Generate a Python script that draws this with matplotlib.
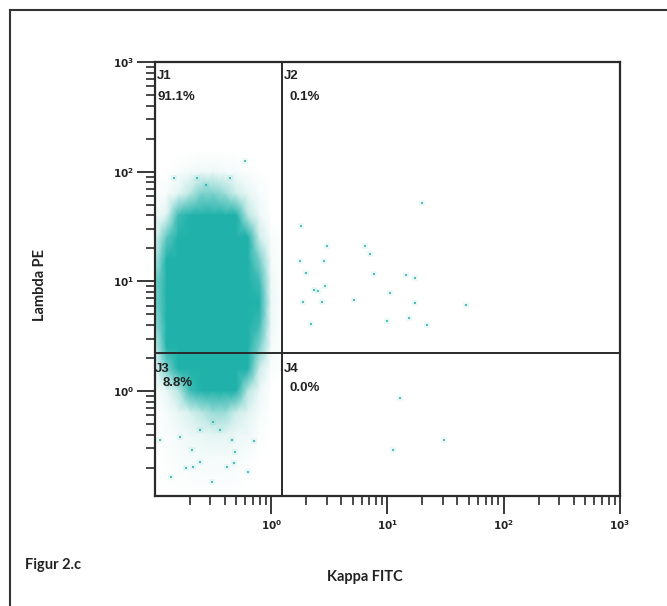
import numpy as np
import matplotlib
matplotlib.use('Agg')
import matplotlib.pyplot as plt
from matplotlib.colors import LinearSegmentedColormap
from matplotlib.lines import Line2D
from matplotlib.ticker import FixedLocator, LogLocator, FuncFormatter, NullFormatter

# ---------------------------------------------------------------------
# data
# ---------------------------------------------------------------------
# density of the main population on a log10 grid (0 = empty, 1 = saturated)
log_x_centers = [-1.0, -0.9, -0.8, -0.7, -0.6, -0.5, -0.4, -0.3, -0.2, -0.1, 0.0, 0.1]
log_y_centers = [2.2, 2.0, 1.8, 1.6, 1.4, 1.2, 1.0, 0.8, 0.6, 0.4, 0.2, 0.0,
                 -0.2, -0.4, -0.6, -0.8, -1.0]
cloud_density = [
    [0.00, 0.00, 0.00, 0.00, 0.00, 0.00, 0.00, 0.00, 0.00, 0.00, 0.00, 0.00],
    [0.00, 0.00, 0.03, 0.06, 0.08, 0.08, 0.06, 0.04, 0.02, 0.00, 0.00, 0.00],
    [0.00, 0.04, 0.15, 0.30, 0.40, 0.40, 0.35, 0.25, 0.12, 0.04, 0.00, 0.00],
    [0.04, 0.18, 0.50, 0.85, 1.00, 1.00, 0.90, 0.60, 0.30, 0.10, 0.00, 0.00],
    [0.15, 0.45, 0.90, 1.00, 1.00, 1.00, 1.00, 0.95, 0.60, 0.25, 0.03, 0.00],
    [0.30, 0.75, 1.00, 1.00, 1.00, 1.00, 1.00, 1.00, 0.85, 0.40, 0.06, 0.00],
    [0.40, 0.90, 1.00, 1.00, 1.00, 1.00, 1.00, 1.00, 0.95, 0.50, 0.08, 0.00],
    [0.40, 0.90, 1.00, 1.00, 1.00, 1.00, 1.00, 1.00, 0.95, 0.55, 0.10, 0.00],
    [0.35, 0.85, 1.00, 1.00, 1.00, 1.00, 1.00, 1.00, 0.95, 0.50, 0.08, 0.00],
    [0.25, 0.70, 1.00, 1.00, 1.00, 1.00, 1.00, 1.00, 0.90, 0.40, 0.06, 0.00],
    [0.10, 0.40, 0.75, 1.00, 1.00, 1.00, 1.00, 1.00, 0.70, 0.25, 0.03, 0.00],
    [0.02, 0.12, 0.30, 0.50, 0.80, 0.90, 0.85, 0.60, 0.30, 0.10, 0.00, 0.00],
    [0.00, 0.05, 0.12, 0.20, 0.30, 0.35, 0.35, 0.25, 0.15, 0.05, 0.00, 0.00],
    [0.00, 0.03, 0.06, 0.10, 0.12, 0.14, 0.14, 0.10, 0.08, 0.02, 0.00, 0.00],
    [0.00, 0.02, 0.04, 0.06, 0.06, 0.06, 0.06, 0.05, 0.03, 0.00, 0.00, 0.00],
    [0.00, 0.01, 0.02, 0.02, 0.03, 0.03, 0.03, 0.02, 0.00, 0.00, 0.00, 0.00],
    [0.00, 0.00, 0.00, 0.00, 0.00, 0.00, 0.00, 0.00, 0.00, 0.00, 0.00, 0.00],
]

# single events outside the dense core
event_kappa = [19.9, 1.80, 3.02, 6.46, 7.13, 1.75, 2.82, 1.99, 7.73, 14.3, 17.1,
               2.92, 2.32, 2.53, 5.12, 1.88, 2.74, 10.5, 17.1, 47.0, 15.3, 9.94,
               22.0, 2.20,
               12.9, 30.6, 11.2,
               0.60, 0.146, 0.44, 0.229, 0.275,
               0.137, 0.308, 0.625, 0.48, 0.415, 0.214, 0.185, 0.244, 0.207,
               0.164, 0.244, 0.458, 0.714, 0.49, 0.364, 0.110, 0.318]
event_lambda = [51.8, 31.7, 20.8, 20.8, 17.8, 15.4, 15.2, 11.9, 11.6, 11.3, 10.8,
                8.97, 8.36, 8.18, 6.78, 6.46, 6.46, 7.80, 6.32, 6.10, 4.61, 4.30,
                4.01, 4.07,
                0.86, 0.36, 0.29,
                124, 87.6, 87.6, 87.6, 76,
                0.165, 0.149, 0.183, 0.219, 0.204, 0.204, 0.197, 0.226, 0.29,
                0.382, 0.44, 0.36, 0.351, 0.28, 0.44, 0.357, 0.524]

gate_kappa = 1.24
gate_lambda = 2.22
quadrant_names = ['J1', 'J2', 'J3', 'J4']
quadrant_pcts = ['91.1%', '0.1%', '8.8%', '0.0%']

# ---------------------------------------------------------------------
teal = '#20b2aa'
fig = plt.figure(figsize=(6.67, 6.06), dpi=100)
ax = fig.add_axes([0.2324, 0.1815, 0.6971, 0.7162])
ax.set_xscale('log')
ax.set_yscale('log')

cmap = LinearSegmentedColormap.from_list('cloud', ['white', '#c9ece8', teal])
X, Y = np.meshgrid(10.0 ** np.array(log_x_centers), 10.0 ** np.array(log_y_centers))
ax.pcolormesh(X, Y, np.array(cloud_density), cmap=cmap, vmin=0, vmax=0.55,
              shading='gouraud', zorder=1)
# faint halo + dot, like the jpeg-smeared events
ax.scatter(event_kappa, event_lambda, s=16, marker='s', color=teal,
           linewidths=0, alpha=0.08, zorder=2)
ax.scatter(event_kappa, event_lambda, s=3, marker='s', color=teal,
           linewidths=0, alpha=0.8, zorder=2)

ax.axvline(gate_kappa, color='#2a2a2a', lw=1.4, zorder=3)
ax.axhline(gate_lambda, color='#2a2a2a', lw=1.4, zorder=3)

ax.set_xlim(0.1, 1000)
ax.set_ylim(0.11, 1000)

for sp in ax.spines.values():
    sp.set_linewidth(1.6)
    sp.set_color('#2a2a2a')

fmt = FuncFormatter(lambda v, p: r'$\mathbf{10^{%d}}$' % round(np.log10(v)))
for axis in (ax.xaxis, ax.yaxis):
    axis.set_major_locator(FixedLocator([1, 10, 100, 1000]))
    axis.set_minor_locator(LogLocator(base=10, subs=np.arange(2, 10)))
    axis.set_major_formatter(fmt)
    axis.set_minor_formatter(NullFormatter())
ax.tick_params(which='major', direction='out', length=13, width=1.3,
               color='#2a2a2a', labelsize=7.5, labelcolor='#222222')
ax.tick_params(which='minor', direction='out', length=6.5, width=1.2, color='#2a2a2a')
ax.tick_params(axis='x', which='major', pad=3)
ax.tick_params(axis='y', which='major', pad=2)

# quadrant labels
lab_kw = dict(transform=ax.transAxes, fontsize=9.5, fontweight='bold',
              family='Liberation Sans', color='#222222', va='center', ha='left',
              zorder=4)
ax.text(0.004, 0.968, quadrant_names[0], **lab_kw)
ax.text(0.006, 0.919, quadrant_pcts[0], **lab_kw)
ax.text(0.277, 0.968, quadrant_names[1], **lab_kw)
ax.text(0.290, 0.919, quadrant_pcts[1], **lab_kw)
ax.text(0.000, 0.293, quadrant_names[2], **lab_kw)
ax.text(0.017, 0.260, quadrant_pcts[2], **lab_kw)
ax.text(0.277, 0.293, quadrant_names[3], **lab_kw)
ax.text(0.290, 0.249, quadrant_pcts[3], **lab_kw)

# axis titles and caption
fig.text(40 / 667, 1 - 285 / 606, 'Lambda PE', rotation=90, ha='center', va='center',
         fontsize=10.5, fontweight='bold', family='Lato', color='#222222')
fig.text(365 / 667, 1 - 577 / 606, 'Kappa FITC', ha='center', va='center',
         fontsize=10.5, fontweight='bold', family='Lato', color='#222222')
fig.text(25 / 667, 1 - 565 / 606, 'Figur 2.c', ha='left', va='center',
         fontsize=10.5, fontweight='bold', family='Lato', color='#222222')

# outer frame (top and left edges)
fig.add_artist(Line2D([10 / 667, 1.0], [1 - 10 / 606, 1 - 10 / 606],
                      color='#333333', lw=1.5, transform=fig.transFigure))
fig.add_artist(Line2D([10 / 667, 10 / 667], [0.0, 1 - 10 / 606],
                      color='#333333', lw=1.5, transform=fig.transFigure))

fig.savefig('out.png', dpi=100)
